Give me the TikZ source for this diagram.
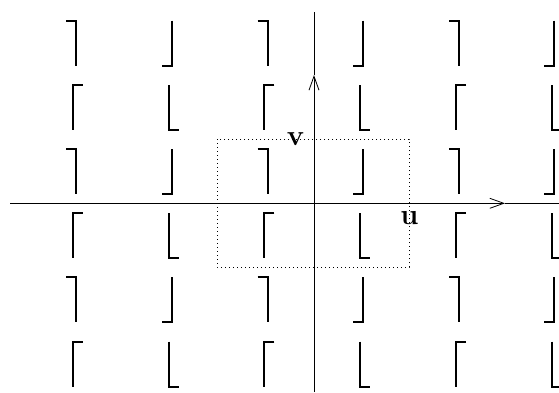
\documentclass[tikz,border=0pt]{standalone}
\usepackage{fontspec}
\usetikzlibrary{arrows.meta}
\begin{document}
\begin{tikzpicture}[x=1pt,y=-1pt,
  glyph/.style={line width=2pt,line join=miter},
  axis/.style={line width=0.8pt},
  tip/.style={-{Straight Barb[length=14pt,width=10pt,line width=0.8pt]}},
  frame/.style={line width=0.8pt,dash pattern=on 0.8pt off 3.2pt},
  lbl/.style={inner sep=0pt,font=\fontsize{29}{31}\selectfont\bfseries}]
\useasboundingbox (0,0) rectangle (559,392);
% glyph grid
\foreach \k in {0,1,2}{
  \foreach \r in {0,1,2}{
    \pgfmathsetmacro{\Y}{20.7+128.3*\r}
    \pgfmathsetmacro{\XA}{76+191.7*\k}
    \pgfmathsetmacro{\XB}{171.7+191*\k}
    \draw[glyph] (\XA-10,\Y) -- (\XA,\Y) -- (\XA,\Y+45);
    \draw[glyph] (\XB,\Y) -- (\XB,\Y+45) -- (\XB-10,\Y+45);
    \pgfmathsetmacro{\YY}{85+128.3*\r}
    \pgfmathsetmacro{\XC}{72.7+191.7*\k}
    \pgfmathsetmacro{\XD}{168.7+191.7*\k}
    \draw[glyph] (\XC+10,\YY) -- (\XC,\YY) -- (\XC,\YY+45);
    \draw[glyph] (\XD,\YY) -- (\XD,\YY+45) -- (\XD+10,\YY+45);
  }
}
% dotted window
\draw[frame] (217,139) rectangle (409,267);
% axes
\coordinate (hl) at (10,203.3);
\coordinate (hr) at (559,203.3);
\coordinate (ht) at (505,203.3);
\coordinate (vb) at (314,392);
\coordinate (vt) at (314,12);
\coordinate (vtip) at (314,75);
\draw[axis,tip] (hl) -- (ht);
\draw[axis] (ht) -- (hr);
\draw[axis,tip] (vb) -- (vtip);
\draw[axis] (vtip) -- (vt);
% labels
\node[lbl] (v) at (295.5,139) {v};
\node[lbl] (u) at (409.5,218) {u};
\end{tikzpicture}
\end{document}
